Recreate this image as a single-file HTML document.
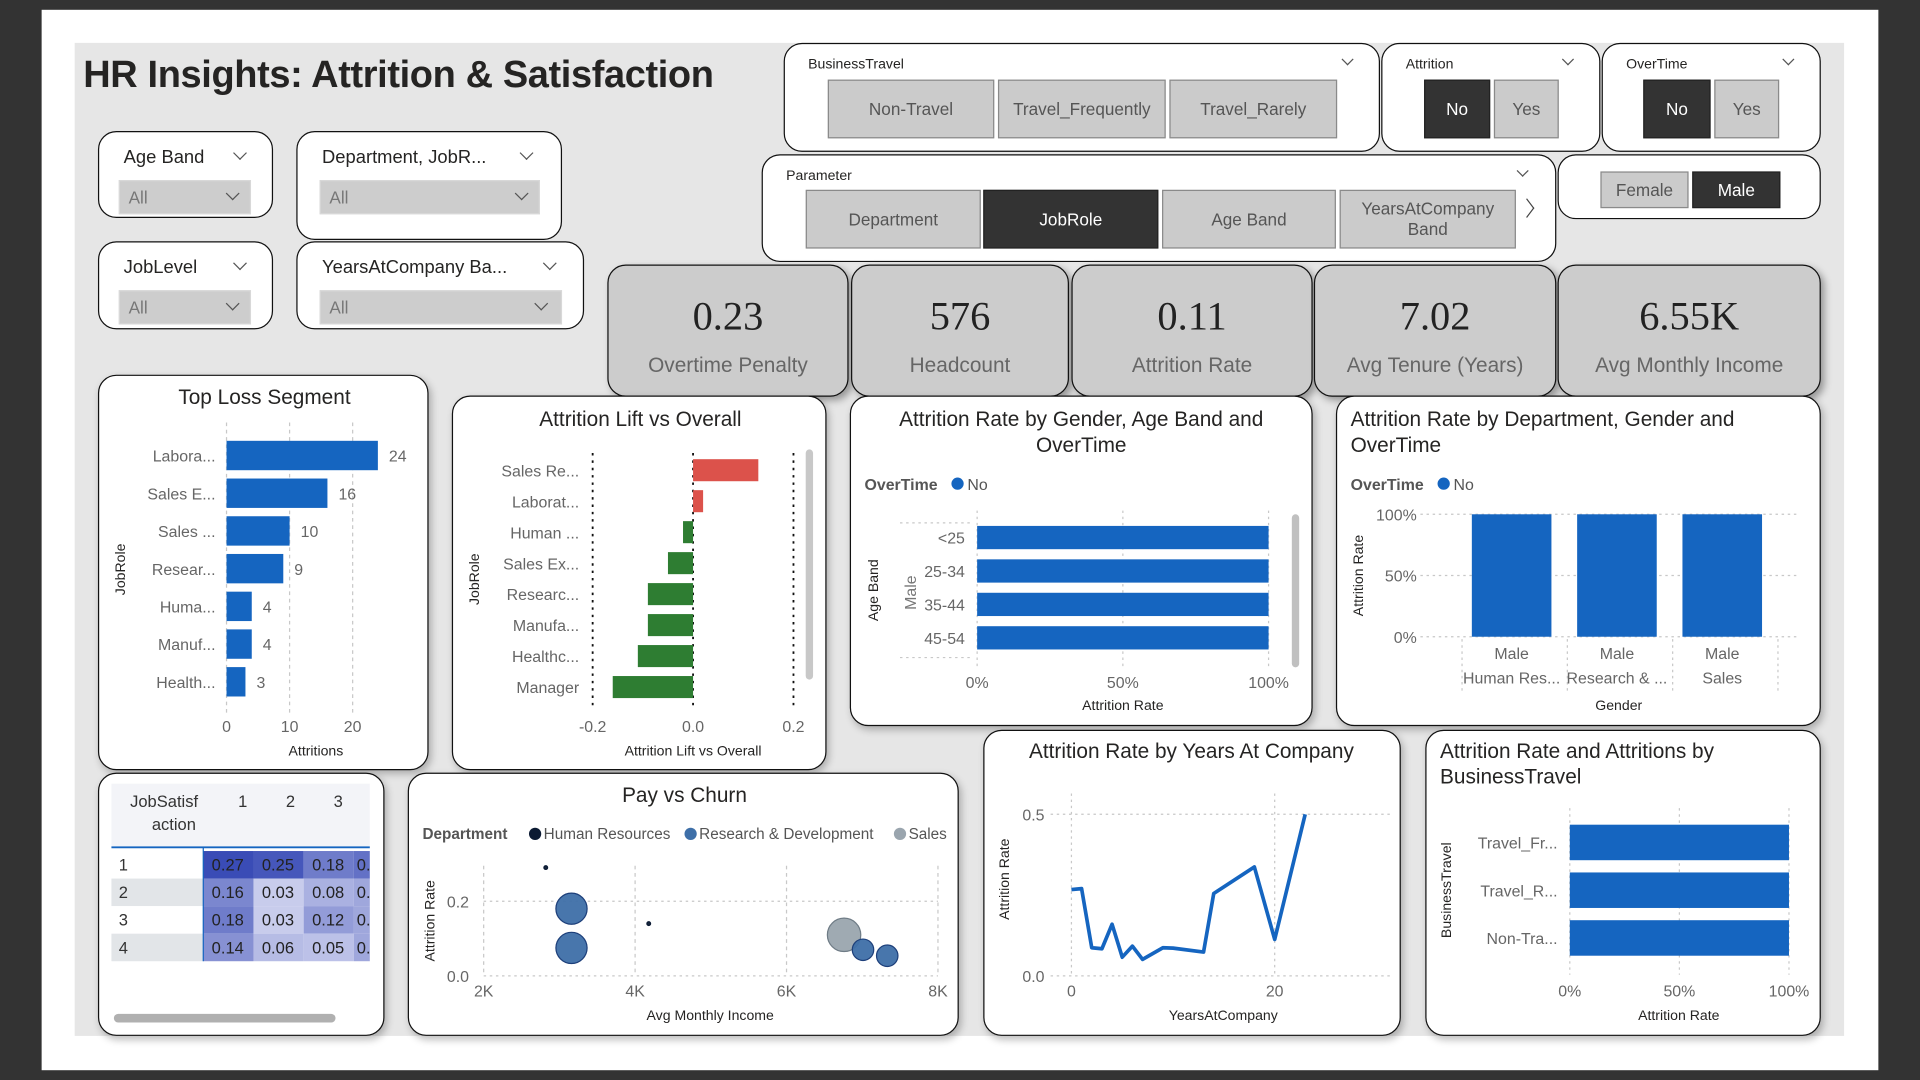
<!DOCTYPE html>
<html><head><meta charset="utf-8">
<style>
html,body{margin:0;padding:0;background:#333;overflow:hidden;width:1920px;height:1080px}
#stage{position:absolute;left:0;top:0;width:1568px;height:882px;transform:scale(1.22449);transform-origin:0 0;font-family:"Liberation Sans",sans-serif;color:#252423}
.abs{position:absolute;box-sizing:border-box}
.page{left:34px;top:8px;width:1500px;height:866px;background:#fff}
.canvas{left:61px;top:35px;width:1445px;height:811px;background:#e6e6e6}
.card{background:#fff;border:1.5px solid #111;border-radius:15px;box-shadow:2px 3px 6px rgba(0,0,0,.25)}
.kpi{background:#cccccc;border:1.5px solid #111;border-radius:15px;box-shadow:3px 3px 6px rgba(0,0,0,.35);text-align:center}
.kv{position:absolute;left:0;right:0;top:24px;font-family:"Liberation Serif",serif;font-size:33px;color:#222}
.kl{position:absolute;left:0;right:0;top:72px;font-size:17px;color:#666}
.lbl{position:absolute;font-size:15px;color:#252423}
.small{font-size:11.5px}
.dd{background:#cdcdcd;border:1px solid #d8d8d8;color:#777;font-size:14px;padding:5px 0 0 7px}
.chev{position:absolute;width:7px;height:7px;border-right:1.2px solid #555;border-bottom:1.2px solid #555;transform:rotate(45deg)}
.btn{background:#cbcbcb;border:1px solid #8a8a8a;color:#555;font-size:14px;text-align:center;display:flex;align-items:center;justify-content:center;line-height:17px}
.btn.on{background:#333;color:#fff;border-color:#222}
</style></head>
<body>
<div id="stage">
<div class="abs page"></div>
<div class="abs canvas"></div>
<div class="abs" style="left:68px;top:43px;font-size:31px;font-weight:bold;color:#252423;letter-spacing:-0.3px">HR Insights: Attrition &amp; Satisfaction</div>

<!-- left slicers -->
<div class="abs card" style="left:80px;top:107px;width:143px;height:71px;box-shadow:none">
 <div class="lbl" style="left:20px;top:12px">Age Band</div>
 <div class="chev" style="left:111px;top:13px"></div>
 <div class="abs dd" style="left:16px;top:39px;width:108px;height:28px">All<div class="chev" style="left:88px;top:6px"></div></div>
</div>
<div class="abs card" style="left:242px;top:107px;width:217px;height:89px;box-shadow:none">
 <div class="lbl" style="left:20px;top:12px">Department, JobR...</div>
 <div class="chev" style="left:183px;top:13px"></div>
 <div class="abs dd" style="left:18px;top:39px;width:180px;height:28px">All<div class="chev" style="left:160px;top:6px"></div></div>
</div>
<div class="abs card" style="left:80px;top:197px;width:143px;height:72px;box-shadow:none">
 <div class="lbl" style="left:20px;top:12px">JobLevel</div>
 <div class="chev" style="left:111px;top:13px"></div>
 <div class="abs dd" style="left:16px;top:39px;width:108px;height:28px">All<div class="chev" style="left:88px;top:6px"></div></div>
</div>
<div class="abs card" style="left:242px;top:197px;width:235px;height:72px;box-shadow:none">
 <div class="lbl" style="left:20px;top:12px">YearsAtCompany Ba...</div>
 <div class="chev" style="left:202px;top:13px"></div>
 <div class="abs dd" style="left:18px;top:39px;width:198px;height:28px">All<div class="chev" style="left:176px;top:6px"></div></div>
</div>

<!-- top slicers -->
<div class="abs card" style="left:640px;top:35px;width:487px;height:89px;box-shadow:none">
 <div class="lbl small" style="left:19px;top:11px">BusinessTravel</div>
 <div class="chev" style="left:456px;top:9px;width:6px;height:6px"></div>
 <div class="abs btn" style="left:35px;top:29px;width:136px;height:48px">Non-Travel</div>
 <div class="abs btn" style="left:174px;top:29px;width:137px;height:48px">Travel_Frequently</div>
 <div class="abs btn" style="left:314px;top:29px;width:137px;height:48px">Travel_Rarely</div>
</div>
<div class="abs card" style="left:1128px;top:35px;width:179px;height:89px;box-shadow:none">
 <div class="lbl small" style="left:19px;top:11px">Attrition</div>
 <div class="chev" style="left:148px;top:9px;width:6px;height:6px"></div>
 <div class="abs btn on" style="left:34px;top:29px;width:54px;height:48px">No</div>
 <div class="abs btn" style="left:91px;top:29px;width:53px;height:48px">Yes</div>
</div>
<div class="abs card" style="left:1308px;top:35px;width:179px;height:89px;box-shadow:none">
 <div class="lbl small" style="left:19px;top:11px">OverTime</div>
 <div class="chev" style="left:148px;top:9px;width:6px;height:6px"></div>
 <div class="abs btn on" style="left:33px;top:29px;width:55px;height:48px">No</div>
 <div class="abs btn" style="left:91px;top:29px;width:53px;height:48px">Yes</div>
</div>
<div class="abs card" style="left:622px;top:126px;width:649px;height:88px;box-shadow:none">
 <div class="lbl small" style="left:19px;top:11px">Parameter</div>
 <div class="chev" style="left:617px;top:9px;width:6px;height:6px"></div>
 <div class="abs btn" style="left:35px;top:28px;width:143px;height:48px">Department</div>
 <div class="abs btn on" style="left:180px;top:28px;width:143px;height:48px">JobRole</div>
 <div class="abs btn" style="left:326px;top:28px;width:142px;height:48px">Age Band</div>
 <div class="abs btn" style="left:471px;top:28px;width:144px;height:48px">YearsAtCompany<br>Band</div>
 <div class="abs" style="left:619px;top:38px;width:10px;height:10px;border-right:1.3px solid #444;border-top:1.3px solid #444;transform:rotate(45deg) skew(8deg,8deg)"></div>
</div>
<div class="abs card" style="left:1272px;top:126px;width:215px;height:53px;box-shadow:none">
 <div class="abs btn" style="left:34px;top:13px;width:72px;height:30px">Female</div>
 <div class="abs btn on" style="left:109px;top:13px;width:72px;height:30px">Male</div>
</div>

<!-- KPIs -->
<div class="abs kpi" style="left:496px;top:216px;width:197px;height:108px"><div class="kv">0.23</div><div class="kl">Overtime Penalty</div></div>
<div class="abs kpi" style="left:695px;top:216px;width:178px;height:108px"><div class="kv">576</div><div class="kl">Headcount</div></div>
<div class="abs kpi" style="left:875px;top:216px;width:197px;height:108px"><div class="kv">0.11</div><div class="kl">Attrition Rate</div></div>
<div class="abs kpi" style="left:1073px;top:216px;width:198px;height:108px"><div class="kv">7.02</div><div class="kl">Avg Tenure (Years)</div></div>
<div class="abs kpi" style="left:1272px;top:216px;width:215px;height:108px"><div class="kv">6.55K</div><div class="kl">Avg Monthly Income</div></div>

<!-- chart cards -->
<div class="abs card" style="left:80px;top:306px;width:270px;height:323px"></div>
<div class="abs card" style="left:369px;top:323px;width:306px;height:306px"></div>
<div class="abs card" style="left:694px;top:323px;width:378px;height:270px"></div>
<div class="abs card" style="left:1091px;top:323px;width:396px;height:270px"></div>
<div class="abs card" style="left:80px;top:631px;width:234px;height:215px"></div>
<div class="abs card" style="left:333px;top:631px;width:450px;height:215px"></div>
<div class="abs card" style="left:803px;top:596px;width:341px;height:250px"></div>
<div class="abs card" style="left:1164px;top:596px;width:323px;height:250px"></div>

<svg id="charts" class="abs" style="left:0;top:0" width="1568" height="882" font-family="Liberation Sans, sans-serif">
 <g fill="#252423" font-size="17">
  <text x="216" y="330" text-anchor="middle">Top Loss Segment</text>
  <text x="523" y="348" text-anchor="middle">Attrition Lift vs Overall</text>
  <text x="883" y="348" text-anchor="middle">Attrition Rate by Gender, Age Band and</text>
  <text x="883" y="369" text-anchor="middle">OverTime</text>
  <text x="1103" y="348">Attrition Rate by Department, Gender and</text>
  <text x="1103" y="369">OverTime</text>
  <text x="559" y="655" text-anchor="middle">Pay vs Churn</text>
  <text x="973" y="619" text-anchor="middle">Attrition Rate by Years At Company</text>
  <text x="1176" y="619">Attrition Rate and Attritions by</text>
  <text x="1176" y="640">BusinessTravel</text>
 </g>
 <g font-size="11.5" fill="#252423">
  <text x="258" y="617" text-anchor="middle">Attritions</text>
  <text transform="translate(102,465) rotate(-90)" text-anchor="middle">JobRole</text>
  <text x="566" y="617" text-anchor="middle">Attrition Lift vs Overall</text>
  <text transform="translate(391,473) rotate(-90)" text-anchor="middle">JobRole</text>
  <text x="917" y="580" text-anchor="middle">Attrition Rate</text>
  <text transform="translate(717,482) rotate(-90)" text-anchor="middle">Age Band</text>
  <text x="1322" y="580" text-anchor="middle">Gender</text>
  <text transform="translate(1113,470) rotate(-90)" text-anchor="middle">Attrition Rate</text>
  <text x="580" y="833" text-anchor="middle">Avg Monthly Income</text>
  <text transform="translate(355,752) rotate(-90)" text-anchor="middle">Attrition Rate</text>
  <text x="999" y="833" text-anchor="middle">YearsAtCompany</text>
  <text transform="translate(824,718) rotate(-90)" text-anchor="middle">Attrition Rate</text>
  <text x="1371" y="833" text-anchor="middle">Attrition Rate</text>
  <text transform="translate(1185,727) rotate(-90)" text-anchor="middle">BusinessTravel</text>
 </g>
 <text transform="translate(748,484) rotate(-90)" text-anchor="middle" font-size="13" fill="#777">Male</text>
 <g font-size="13">
  <text x="706" y="400" font-weight="bold" fill="#555">OverTime</text><circle cx="782" cy="395" r="5" fill="#1565c0"/><text x="790" y="400" fill="#555">No</text>
 </g>
 <g font-size="13">
  <text x="1103" y="400" font-weight="bold" fill="#555">OverTime</text><circle cx="1179" cy="395" r="5" fill="#1565c0"/><text x="1187" y="400" fill="#555">No</text>
 </g>
 <g font-size="12.5" fill="#555">
  <text x="345" y="685" font-weight="bold">Department</text>
  <circle cx="437" cy="681" r="5" fill="#0b1a33"/><text x="444" y="685">Human Resources</text>
  <circle cx="564" cy="681" r="5" fill="#3e6fa8"/><text x="571" y="685">Research &amp; Development</text>
  <circle cx="735" cy="681" r="5" fill="#9aa5ae"/><text x="742" y="685">Sales</text>
 </g>
 <rect x="658" y="367" width="6" height="188" rx="3" fill="#c8c8c8"/>
 <rect x="1055" y="420" width="6" height="125" rx="3" fill="#c0c0c0"/>
 <rect x="93" y="828" width="181" height="7" rx="3.5" fill="#b0b0b0"/>
 <g id="marks"></g>
</svg>
</div>

<script>
// ---- data ----
const lossRoles = ['Labora...','Sales E...','Sales ...','Resear...','Huma...','Manuf...','Health...'];
const lossValues = [24,16,10,9,4,4,3];
const lossTicks = [0,10,20];
const liftRoles = ['Sales Re...','Laborat...','Human ...','Sales Ex...','Researc...','Manufa...','Healthc...','Manager'];
const liftValues = [0.13,0.02,-0.02,-0.05,-0.09,-0.09,-0.11,-0.16];
const liftTicks = [-0.2,0,0.2];
const ageBands = ['<25','25-34','35-44','45-54'];
const ageRates = [1,1,1,1];
const pctTicks = [0,0.5,1];
const deptNames = ['Human Res...','Research & ...','Sales'];
const deptGender = ['Male','Male','Male'];
const deptRates = [1,1,1];
const heatRows = ['1','2','3','4'];
const heatCols = ['1','2','3','4'];
const heatValues = [[0.27,0.25,0.18,0.20],[0.16,0.03,0.08,0.10],[0.18,0.03,0.12,0.10],[0.14,0.06,0.05,0.10]];
const payDept = ['Human Resources','Human Resources','Research & Development','Research & Development','Sales','Research & Development','Research & Development'];
const payIncome = [2.82,4.18,3.16,3.16,6.76,7.01,7.33];
const payRate = [0.29,0.14,0.18,0.075,0.11,0.07,0.054];
const payCount = [0,0,60,60,70,25,25];
const payXTicks = [2,4,6,8];
const payYTicks = [0,0.2];
const years = [0,1,2,3,4,5,6,7,9,10,13,14,18,20,23];
const yearRates = [0.267,0.27,0.087,0.084,0.16,0.058,0.092,0.051,0.087,0.086,0.074,0.255,0.337,0.113,0.5];
const yearXTicks = [0,20];
const yearYTicks = [0,0.5];
const travelTypes = ['Travel_Fr...','Travel_R...','Non-Tra...'];
const travelRates = [1,1,1];

const NS='http://www.w3.org/2000/svg';
const root=document.getElementById('marks');
function el(tag, attrs, txt){const e=document.createElementNS(NS,tag);for(const k in attrs)e.setAttribute(k,attrs[k]);if(txt!==undefined)e.textContent=txt;root.appendChild(e);return e;}
function lin(d0,d1,r0,r1){return v=>r0+(v-d0)*(r1-r0)/(d1-d0);}
const BLUE='#1565c0', GRID='#c8c8c8', TICK='#666';
let e;

// ---- Top loss ----
{const x=lin(0,20,185,288), y0=372, step=30.8, h=24;
 lossTicks.forEach(t=>{
  e=el('line',{x1:x(t),x2:x(t),y1:345,y2:582,stroke:GRID,'stroke-dasharray':'3,3'});
  
  
  e=el('text',{x:x(t),y:598,'text-anchor':'middle','font-size':13,fill:TICK},String(t));
  
  });
 lossValues.forEach((v,i)=>{const cy=y0+i*step;
  e=el('rect',{x:x(0),y:cy-h/2,width:x(v)-x(0),height:h,fill:BLUE});
  
  
  e=el('text',{x:x(v)+9,y:cy+5,'font-size':13,fill:TICK},String(v));
  
  
  e=el('text',{x:176,y:cy+5,'text-anchor':'end','font-size':13,fill:TICK},lossRoles[i]);
  
  });}

// ---- Lift ----
{const x=lin(-0.2,0.2,484,648), y0=384, step=25.3, h=18;
 liftTicks.forEach(t=>{
  e=el('line',{x1:x(t),x2:x(t),y1:370,y2:580,stroke:'#111','stroke-width':1.5,'stroke-dasharray':'2,4'});
  
  
  e=el('text',{x:x(t),y:598,'text-anchor':'middle','font-size':13,fill:TICK},t.toFixed(1));
  
  });
 liftValues.forEach((v,i)=>{const cy=y0+i*step;
  e=el('rect',{x:Math.min(x(0),x(v)),y:cy-h/2,width:Math.abs(x(v)-x(0)),height:h,fill:v>=0?'#dc524b':'#2e7d32'});
  
  
  e=el('text',{x:473,y:cy+5,'text-anchor':'end','font-size':13,fill:TICK},liftRoles[i]);
  
  });}

// ---- Gender / Age band ----
{const x=lin(0,1,798,1036), y0=439, step=27.3, h=19;
 [427,537].forEach(yy=>{e=el('line',{x1:735,x2:792,y1:yy,y2:yy,stroke:GRID,'stroke-dasharray':'2,3'});
  
  });
 pctTicks.forEach(t=>{
  e=el('line',{x1:x(t),x2:x(t),y1:417,y2:545,stroke:GRID,'stroke-dasharray':'2,3'});
  
  
  e=el('text',{x:x(t),y:562,'text-anchor':'middle','font-size':13,fill:TICK},Math.round(t*100)+'%');
  
  });
 ageRates.forEach((v,i)=>{const cy=y0+i*step;
  e=el('rect',{x:x(0),y:cy-h/2,width:x(v)-x(0),height:h,fill:BLUE});
  
  
  e=el('text',{x:788,y:cy+5,'text-anchor':'end','font-size':13,fill:TICK},ageBands[i]);
  
  });}

// ---- Dept / Gender columns ----
{const y=lin(0,1,520,420), x0=1202, step=86, w=65;
 pctTicks.forEach(t=>{
  e=el('line',{x1:1160,x2:1470,y1:y(t),y2:y(t),stroke:GRID,'stroke-dasharray':'2,3'});
  
  
  e=el('text',{x:1157,y:y(t)+5,'text-anchor':'end','font-size':13,fill:TICK},Math.round(t*100)+'%');
  
  });
 [0,1,2,3].forEach(k=>{e=el('line',{x1:1194+k*86,x2:1194+k*86,y1:522,y2:564,stroke:GRID,'stroke-dasharray':'2,3'});
  
  });
 deptRates.forEach((v,i)=>{const xl=x0+i*step;
  e=el('rect',{x:xl,y:y(v),width:w,height:y(0)-y(v),fill:BLUE});
  
  
  e=el('text',{x:xl+w/2,y:538,'text-anchor':'middle','font-size':13,fill:TICK},deptGender[i]);
  
  
  e=el('text',{x:xl+w/2,y:558,'text-anchor':'middle','font-size':13,fill:TICK},deptNames[i]);
  
  });}

// ---- Heatmap matrix ----
{e=el('rect',{x:91,y:640,width:211,height:51,fill:'#f3f4f8'});
 
 
 e=el('text',{x:134,y:659,'text-anchor':'middle','font-size':13.5,fill:'#333'},'JobSatisf');
 
 
 e=el('text',{x:142,y:678,'text-anchor':'middle','font-size':13.5,fill:'#333'},'action');
 
 
 const cx0=166, cw=41, ry0=695, rh=22.5;
 heatCols.forEach((c,j)=>{
  if(cx0+j*cw+36>302) return;
  e=el('text',{x:cx0+j*cw+36-j*2,y:659,'text-anchor':'end','font-size':13.5,fill:'#333'},c);
  
  });
 const lo=[200,204,236], hi=[58,76,182];
 const col=v=>{const t=Math.max(0,Math.min(1,(v-0.03)/0.24));return 'rgb('+lo.map((a,k)=>Math.round(a+(hi[k]-a)*t)).join(',')+')';};
 heatRows.forEach((r,i)=>{const yy=ry0+i*rh;
  e=el('rect',{x:91,y:yy,width:75,height:rh,fill:i%2?'#e2e5e8':'#fff'});
  
  
  e=el('text',{x:97,y:yy+16,'font-size':13.5,fill:'#333'},r);
  
  
  heatValues[i].forEach((v,j)=>{const xx=cx0+j*cw, ww=Math.min(cw,302-xx);
   e=el('rect',{x:xx,y:yy,width:ww,height:rh,fill:col(v)});
   
   
   const tt=el('text',{x:xx+20,y:yy+16,'text-anchor':'middle','font-size':13.5,fill:'#222'},v.toFixed(2));
   
   
   if(ww<cw){tt.setAttribute('x',xx+8);tt.textContent='0.';}
  });});
 e=el('line',{x1:91,x2:302,y1:692,y2:692,stroke:'#1565c0','stroke-width':1.5});
 
 
 e=el('line',{x1:166,x2:166,y1:692,y2:785,stroke:'#1565c0','stroke-width':1});
 
 }

// ---- Pay vs churn ----
{const x=lin(2,8,395,766), y=lin(0,0.2,797,736);
 payXTicks.forEach(t=>{
  e=el('line',{x1:x(t),x2:x(t),y1:707,y2:797,stroke:GRID,'stroke-dasharray':'3,3'});
  
  
  e=el('text',{x:x(t),y:814,'text-anchor':'middle','font-size':13,fill:TICK},t+'K');
  
  });
 payYTicks.forEach(t=>{
  e=el('line',{x1:395,x2:766,y1:y(t),y2:y(t),stroke:GRID,'stroke-dasharray':'2,3'});
  
  
  e=el('text',{x:383,y:y(t)+5,'text-anchor':'end','font-size':13,fill:TICK},t.toFixed(1));
  
  });
 const fill={'Human Resources':'#0b1a33','Research & Development':'#3e6fa8','Sales':'#9aa5ae'};
 const stroke={'Human Resources':'#0b1a33','Research & Development':'#1d3f7a','Sales':'#6f7c86'};
 payIncome.forEach((v,i)=>{
  e=el('circle',{cx:x(v),cy:y(payRate[i]),r:1.5+Math.sqrt(payCount[i])*1.45,fill:fill[payDept[i]],stroke:stroke[payDept[i]],'stroke-width':1,'fill-opacity':0.95});
  
  });}

// ---- Years at company line ----
{const x=lin(0,20,875,1041), y=lin(0,0.5,797,665);
 yearYTicks.forEach(t=>{
  e=el('line',{x1:858,x2:1135,y1:y(t),y2:y(t),stroke:GRID,'stroke-dasharray':'2,3'});
  
  
  e=el('text',{x:853,y:y(t)+5,'text-anchor':'end','font-size':13,fill:TICK},t.toFixed(1));
  
  });
 yearXTicks.forEach(t=>{
  e=el('line',{x1:x(t),x2:x(t),y1:648,y2:797,stroke:GRID,'stroke-dasharray':'2,3'});
  
  
  e=el('text',{x:x(t),y:814,'text-anchor':'middle','font-size':13,fill:TICK},String(t));
  
  });
 const pts=years.map((yr,i)=>x(yr).toFixed(1)+','+y(yearRates[i]).toFixed(1)).join(' ');
 e=el('polyline',{points:pts,fill:'none',stroke:BLUE,'stroke-width':3,'stroke-linejoin':'round'});
 
 }

// ---- Business travel ----
{const x=lin(0,1,1282,1461), y0=688, step=39, h=29;
 pctTicks.forEach(t=>{
  e=el('line',{x1:x(t),x2:x(t),y1:660,y2:796,stroke:GRID,'stroke-dasharray':'2,3'});
  
  
  e=el('text',{x:x(t),y:814,'text-anchor':'middle','font-size':13,fill:TICK},Math.round(t*100)+'%');
  
  });
 travelRates.forEach((v,i)=>{const cy=y0+i*step;
  e=el('rect',{x:x(0),y:cy-h/2,width:x(v)-x(0),height:h,fill:BLUE});
  
  
  e=el('text',{x:1272,y:cy+5,'text-anchor':'end','font-size':13,fill:TICK},travelTypes[i]);
  
  });}
</script>
</body></html>
